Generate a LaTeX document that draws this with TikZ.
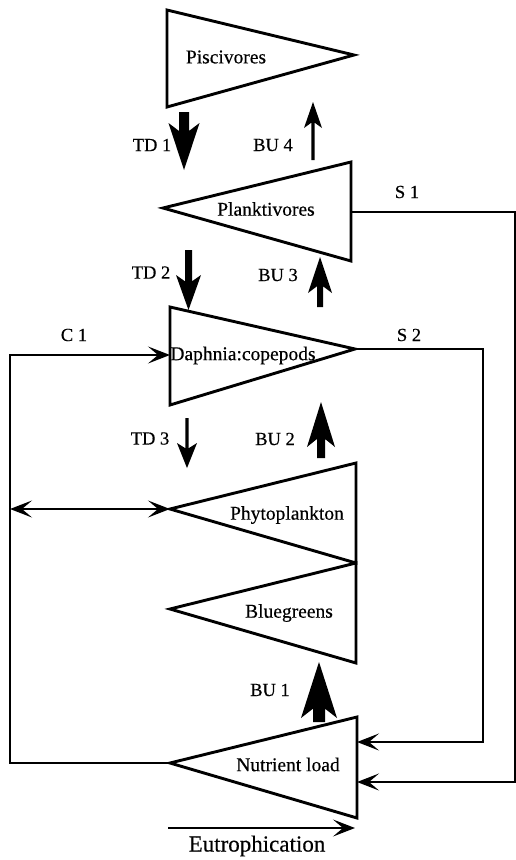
\documentclass[tikz,border=0pt]{standalone}
\usepackage{fontspec}
\setmainfont{Liberation Serif}[FakeBold=0.4]
\usetikzlibrary{arrows.meta}
% vertical block arrow: x, y of tail, y of tip, half shaft width, head length, half head width
\newcommand\blockdown[6]{%
  \fill (#1-#4,#2) -- (#1+#4,#2) -- (#1+#4,{#3-#5+0.25*#5*(1-#4/#6)}) -- (#1+#6,#3-#5)
    -- (#1,#3) -- (#1-#6,#3-#5) -- (#1-#4,{#3-#5+0.25*#5*(1-#4/#6)}) -- cycle;}
\newcommand\blockup[6]{%
  \fill (#1-#4,#2) -- (#1+#4,#2) -- (#1+#4,{#3+#5-0.25*#5*(1-#4/#6)}) -- (#1+#6,#3+#5)
    -- (#1,#3) -- (#1-#6,#3+#5) -- (#1-#4,{#3+#5-0.25*#5*(1-#4/#6)}) -- cycle;}
\begin{document}
\begin{tikzpicture}[x=1pt,y=-1pt,
  tri/.style={line width=2.9pt, line join=miter},
  conn/.style={line width=1.8pt, line join=miter},
  conarrow/.style={-{Stealth[length=22pt,width=17pt,inset=10pt]}},
  dblarrow/.style={{Stealth[length=22pt,width=17pt,inset=10pt]}-{Stealth[length=22pt,width=17pt,inset=10pt]}},
  taxon/.style={font=\fontsize{19.5}{22}\selectfont, inner sep=0pt},
  lab/.style={font=\fontsize{18.5}{21}\selectfont, inner sep=0pt},
  eut/.style={font=\fontsize{23}{26}\selectfont, inner sep=0pt}
]
\useasboundingbox (0,0) rectangle (516,860);

% triangle corners
\coordinate (pisA) at (167,10);  \coordinate (pisB) at (167,107); \coordinate (pisT) at (354,55);
\coordinate (plA) at (351,162);  \coordinate (plB) at (351,261);  \coordinate (plT) at (163,208);
\coordinate (plR) at (351,212);
\coordinate (dA) at (170,307);   \coordinate (dB) at (170,405);   \coordinate (dT) at (355,349);
\coordinate (dL) at (170,355);
\coordinate (phA) at (356,463);  \coordinate (phB) at (356,563);  \coordinate (phT) at (170,509);
\coordinate (blB) at (356,663);  \coordinate (blT) at (170,609);
\coordinate (nA) at (357,717);   \coordinate (nB) at (357,818);   \coordinate (nT) at (170,763);
\coordinate (nR2) at (357,742);  \coordinate (nR1) at (357,782);

% triangles
\draw[tri] (pisA) -- (pisT) -- (pisB) -- cycle;
\draw[tri] (plT) -- (plA) -- (plB) -- cycle;
\draw[tri] (dA) -- (dT) -- (dB) -- cycle;
\draw[tri] (phT) -- (phA) -- (phB) -- cycle;
\draw[tri] (blT) -- (phB) -- (blB) -- cycle;
\draw[tri] (nT) -- (nA) -- (nB) -- cycle;

% names
\node[taxon] (pis) at (226,57) {Piscivores};
\node[taxon] (pla) at (266,209) {Planktivores};
\node[taxon] (dap) at (243,355.5) {Daphnia:copepods};
\node[taxon] (phy) at (287,515) {Phytoplankton};
\node[taxon] (blu) at (289,613) {Bluegreens};
\node[taxon] (nut) at (288,764.5) {Nutrient load};

% vertical effect arrows (top-down and bottom-up)
\blockdown{184}{112}{170}{5}{47}{15.5}   % TD 1
\blockup{313}{160}{102}{1.6}{26}{9}      % BU 4
\blockdown{188.5}{250}{310}{3.5}{35}{12.5} % TD 2
\blockup{320}{307}{257}{3}{36}{12}       % BU 3
\blockdown{187}{418}{468}{1.7}{25}{10}   % TD 3
\blockup{321}{458}{402}{4}{45}{14}       % BU 2
\blockup{319}{722}{662}{6}{56}{18}       % BU 1

\node[lab] (ltd1) at (152,145) {TD 1};
\node[lab] (lbu4) at (273,145) {BU 4};
\node[lab] (ltd2) at (151,272.5) {TD 2};
\node[lab] (lbu3) at (278,275) {BU 3};
\node[lab] (ltd3) at (150,438.5) {TD 3};
\node[lab] (lbu2) at (275,439) {BU 2};
\node[lab] (lbu1) at (270,690) {BU 1};

% connectors
\coordinate (c1B) at (10,763); \coordinate (c1L) at (10,355);
\draw[conn, conarrow] (nT) -- (c1B) -- (c1L) -- (dL);
\coordinate (dblL) at (10,509);
\draw[conn, dblarrow] (dblL) -- (phT);
\coordinate (s2a) at (483,349); \coordinate (s2b) at (483,742);
\draw[conn, conarrow] (dT) -- (s2a) -- (s2b) -- (nR2);
\coordinate (s1a) at (515,212); \coordinate (s1b) at (515,782);
\draw[conn, conarrow] (plR) -- (s1a) -- (s1b) -- (nR1);
\coordinate (eA) at (168,828); \coordinate (eB) at (355,828);
\draw[conn, conarrow] (eA) -- (eB);

\node[lab] (lc1) at (74,335) {C 1};
\node[lab] (ls2) at (409,335) {S 2};
\node[lab] (ls1) at (407,192) {S 1};
\node[eut] (leu) at (257,846) {Eutrophication};
\end{tikzpicture}
\end{document}
